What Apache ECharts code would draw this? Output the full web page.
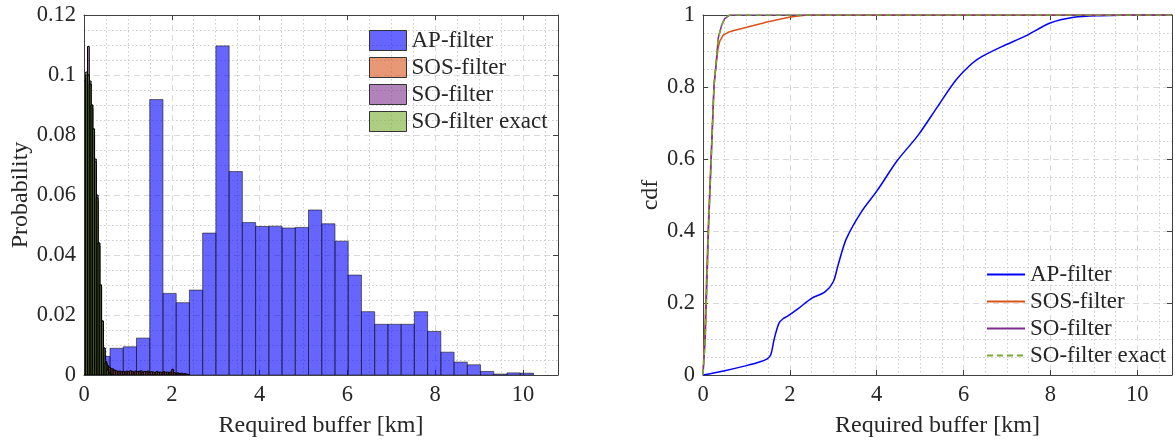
<!DOCTYPE html>
<html><head><meta charset="utf-8">
<script src="https://cdn.jsdelivr.net/npm/echarts@6/dist/echarts.min.js"></script>
<style>html,body{margin:0;padding:0;background:#fff;}#chart{width:1175px;height:443px;}</style>
</head><body><div id="chart"></div>
<script>
// ---------- data ----------
const seriesNames = ['AP-filter', 'SOS-filter', 'SO-filter', 'SO-filter exact'];
const xAxisTitle = 'Required buffer [km]';
const leftYTitle = 'Probability';
const rightYTitle = 'cdf';

// AP-filter histogram (wide bins)
const apBinStart = -0.01, apBinWidth = 0.3015;
const apProb = [0.006, 0.0062, 0.0089, 0.0094, 0.0123, 0.0918, 0.0272, 0.0241, 0.0283, 0.0473,
  0.1097, 0.0678, 0.0508, 0.0495, 0.0496, 0.0490, 0.0492, 0.0550, 0.0504, 0.0446,
  0.0333, 0.0211, 0.0169, 0.0169, 0.0169, 0.0211, 0.0145, 0.0076, 0.0043, 0.0034,
  0.0012, 0.0003, 0.0007, 0.0006];

// narrow-bin histograms near zero
const nearBinStart = 0, nearBinWidth = 0.04;
const sosProb = [0.095, 0.099, 0.100, 0.097, 0.089, 0.080, 0.070, 0.058, 0.043, 0.029,
  0.017, 0.008, 0.0045, 0.0032, 0.0026, 0.0022,
  0.0020, 0.0016, 0.0014, 0.0012, 0.0013, 0.0011, 0.0012, 0.0010,
  0.0013, 0.0011, 0.0014, 0.0012, 0.0010, 0.0013, 0.0011, 0.0012, 0.0014, 0.0010, 0.0012, 0.0011, 0.0013,
  0.0009, 0.0011, 0.0010, 0.0008, 0.0012, 0.0009, 0.0010, 0.0008, 0.0011, 0.0009, 0.0010, 0.0009, 0.0010,
  0.0019, 0.0008, 0.0006, 0.0007, 0.0005, 0.0006, 0.0004, 0.0005, 0.0003, 0.0002];
const soProb = [0.097, 0.100, 0.1095, 0.098, 0.090, 0.082, 0.072, 0.060, 0.044, 0.030,
  0.018, 0.009, 0.004, 0.0018, 0.0007, 0.0003];
const soExactProb = [0.098, 0.101, 0.100, 0.097, 0.090, 0.082, 0.071, 0.059, 0.044, 0.030,
  0.018, 0.009, 0.004, 0.0017, 0.0006, 0.0002];

// CDF curves
const apCdfX = [0, 0.5, 1.0, 1.3, 1.48, 1.56, 1.64, 1.75, 1.85, 1.93, 2.2, 2.5, 2.81, 3.0, 3.11, 3.3, 3.64, 4.01, 4.47, 4.96, 5.41, 5.83, 6.2, 6.43, 6.88, 7.48, 7.98, 8.54, 9.14, 10.05, 10.8];
const apCdfY = [0, 0.012, 0.026, 0.036, 0.045, 0.056, 0.10, 0.144, 0.157, 0.162, 0.185, 0.213, 0.231, 0.259, 0.305, 0.378, 0.452, 0.512, 0.595, 0.667, 0.747, 0.82, 0.866, 0.885, 0.912, 0.945, 0.977, 0.9935, 0.998, 1.0, 1.0];
const sosCdfX = [0, 0.04, 0.12, 0.25, 0.30, 0.35, 0.39, 0.47, 0.60, 0.69, 0.92, 1.07, 1.37, 1.45, 1.98, 2.2, 2.4, 10.8];
const sosCdfY = [0, 0.12, 0.41, 0.80, 0.86, 0.91, 0.928, 0.945, 0.953, 0.956, 0.963, 0.968, 0.977, 0.98, 0.9935, 0.997, 1.0, 1.0];
const soCdfX = [0, 0.052, 0.127, 0.256, 0.30, 0.35, 0.43, 0.50, 0.62, 10.8];
const soCdfY = [0, 0.10, 0.406, 0.807, 0.862, 0.936, 0.972, 0.99, 1.0, 1.0];
const soExactCdfX = [0, 0.05, 0.13, 0.256, 0.30, 0.35, 0.43, 0.50, 0.60, 10.8];
const soExactCdfY = [0, 0.10, 0.41, 0.81, 0.865, 0.935, 0.973, 0.99, 1.0, 1.0];

// ---------- styling ----------
const FONT = 'Liberation Serif';
const TXT = '#262626';
const AXC = '#404040';
const MAJ = '#d9d9d9';
const MIN = '#cdcdcd';
const faceCols = ['rgba(0,0,255,0.6)', 'rgba(217,83,25,0.6)', 'rgba(126,47,142,0.6)', 'rgba(119,172,48,0.6)'];
const lineCols = ['#0000ff', '#d95319', '#7e2f8e', '#77ac30'];

function bins(start, width, vals) {
  return vals.map((v, i) => [start + i * width, start + (i + 1) * width, v]);
}
function zip(xs, ys) { return xs.map((x, i) => [x, ys[i]]); }

function renderBar(params, api) {
  const p0 = api.coord([api.value(0), 0]);
  const p1 = api.coord([api.value(1), api.value(2)]);
  return {
    type: 'rect',
    shape: { x: p0[0], y: p1[1], width: p1[0] - p0[0], height: p0[1] - p1[1] },
    style: api.style()
  };
}

const XMAX = 10.8;
const evenLabel = v => (Math.abs(v / 2 - Math.round(v / 2)) < 1e-9 ? String(Math.round(v)) : '');

function mainX(grid) {
  return {
    type: 'value', gridIndex: grid, position: 'bottom', min: 0, max: XMAX, interval: 2,
    axisLine: { show: true, lineStyle: { color: AXC, width: 1 } },
    axisTick: { show: true, inside: true, length: 5, lineStyle: { color: AXC } },
    axisLabel: { formatter: evenLabel, color: TXT, fontFamily: FONT, fontSize: 22.5, margin: 9 },
    splitLine: { show: true, lineStyle: { color: MAJ, type: [6, 4], width: 1 } },
    name: xAxisTitle, nameLocation: 'middle', nameGap: 39,
    nameTextStyle: { color: TXT, fontFamily: FONT, fontSize: 24 }
  };
}
function topX(grid) {
  return {
    type: 'value', gridIndex: grid, position: 'top', min: 0, max: XMAX, interval: 2,
    axisLine: { show: true, onZero: false, lineStyle: { color: AXC, width: 1 } },
    axisTick: { show: true, inside: true, length: 5, lineStyle: { color: AXC } },
    axisLabel: { show: false }, splitLine: { show: false }
  };
}
function minorX(grid) {
  return {
    type: 'value', gridIndex: grid, position: 'bottom', min: 0, max: XMAX, interval: 0.5,
    axisLine: { show: false }, axisTick: { show: false }, axisLabel: { show: false },
    splitLine: { show: true, lineStyle: { color: ['rgba(0,0,0,0)', MIN, MIN, MIN], type: [1.5, 2.5], width: 1 } }
  };
}
function mainY(grid, max, interval, name, gap) {
  return {
    type: 'value', gridIndex: grid, position: 'left', min: 0, max: max, interval: interval,
    axisLine: { show: true, lineStyle: { color: AXC, width: 1 } },
    axisTick: { show: true, inside: true, length: 5, lineStyle: { color: AXC } },
    axisLabel: { color: TXT, fontFamily: FONT, fontSize: 22.5, margin: 8 },
    splitLine: { show: true, lineStyle: { color: MAJ, type: [6, 4], width: 1 } },
    minorTick: { show: false, splitNumber: 4 },
    minorSplitLine: { show: true, lineStyle: { color: MIN, type: [1.5, 2.5], width: 1 } },
    name: name, nameLocation: 'middle', nameGap: gap, nameRotate: 90,
    nameTextStyle: { color: TXT, fontFamily: FONT, fontSize: 24 }
  };
}
function rightY(grid, max, interval) {
  return {
    type: 'value', gridIndex: grid, position: 'right', min: 0, max: max, interval: interval,
    axisLine: { show: true, onZero: false, lineStyle: { color: AXC, width: 1 } },
    axisTick: { show: true, inside: true, length: 5, lineStyle: { color: AXC } },
    axisLabel: { show: false }, splitLine: { show: false }
  };
}

const histData = [
  bins(apBinStart, apBinWidth, apProb),
  bins(nearBinStart, nearBinWidth, sosProb),
  bins(nearBinStart, nearBinWidth, soProb),
  bins(nearBinStart, nearBinWidth, soExactProb)
];
const cdfData = [zip(apCdfX, apCdfY), zip(sosCdfX, sosCdfY), zip(soCdfX, soCdfY), zip(soExactCdfX, soExactCdfY)];
const cdfNames = seriesNames.map(n => n + '#cdf');

const series = [];
seriesNames.forEach((n, i) => {
  series.push({
    type: 'custom', name: n, xAxisIndex: 0, yAxisIndex: 0, clip: true,
    renderItem: renderBar, data: histData[i], encode: { x: [0, 1], y: 2 },
    itemStyle: { color: faceCols[i], borderColor: i === 0 ? 'rgba(20,20,20,0.85)' : 'rgba(0,0,0,1)', borderWidth: i === 0 ? 0.7 : 1 },
    silent: true, z: 2 + i
  });
});
cdfNames.forEach((n, i) => {
  series.push({
    type: 'line', name: n, xAxisIndex: 3, yAxisIndex: 2, data: cdfData[i],
    symbol: 'none', showSymbol: false, clip: true,
    smooth: i === 0 ? 0.3 : false,
    lineStyle: { color: lineCols[i], width: 1.5, type: i === 3 ? [6, 4] : 'solid' },
    itemStyle: { color: lineCols[i] },
    silent: true, z: 3 + i
  });
});

const option = {
  backgroundColor: '#ffffff',
  animation: false,
  grid: [
    { left: 84, top: 15, width: 474, height: 362, containLabel: false },
    { left: 703, top: 15, width: 477, height: 362, containLabel: false }
  ],
  xAxis: [mainX(0), topX(0), minorX(0), mainX(1), topX(1), minorX(1)],
  yAxis: [mainY(0, 0.12, 0.02, leftYTitle, 38), rightY(0, 0.12, 0.02), mainY(1, 1, 0.2, rightYTitle, 39), rightY(1, 1, 0.2)],
  legend: [
    {
      left: 369, top: 29, padding: 0, orient: 'vertical', icon: 'rect', itemWidth: 37, itemHeight: 20, itemGap: 4,
      data: seriesNames, selectedMode: false,
      itemStyle: { borderColor: '#333333', borderWidth: 1 },
      textStyle: { color: TXT, fontFamily: FONT, fontSize: 23 }
    },
    {
      left: 986, top: 263, padding: 0, orient: 'vertical', itemWidth: 38, itemHeight: 14, itemGap: 4,
      data: cdfNames, selectedMode: false,
      itemStyle: { opacity: 0 },
      formatter: n => n.replace('#cdf', ''),
      textStyle: { color: TXT, fontFamily: FONT, fontSize: 23 }
    }
  ],
  series: series
};

const chart = echarts.init(document.getElementById('chart'), null, { renderer: 'canvas' });
chart.setOption(option);
</script>
</body></html>
